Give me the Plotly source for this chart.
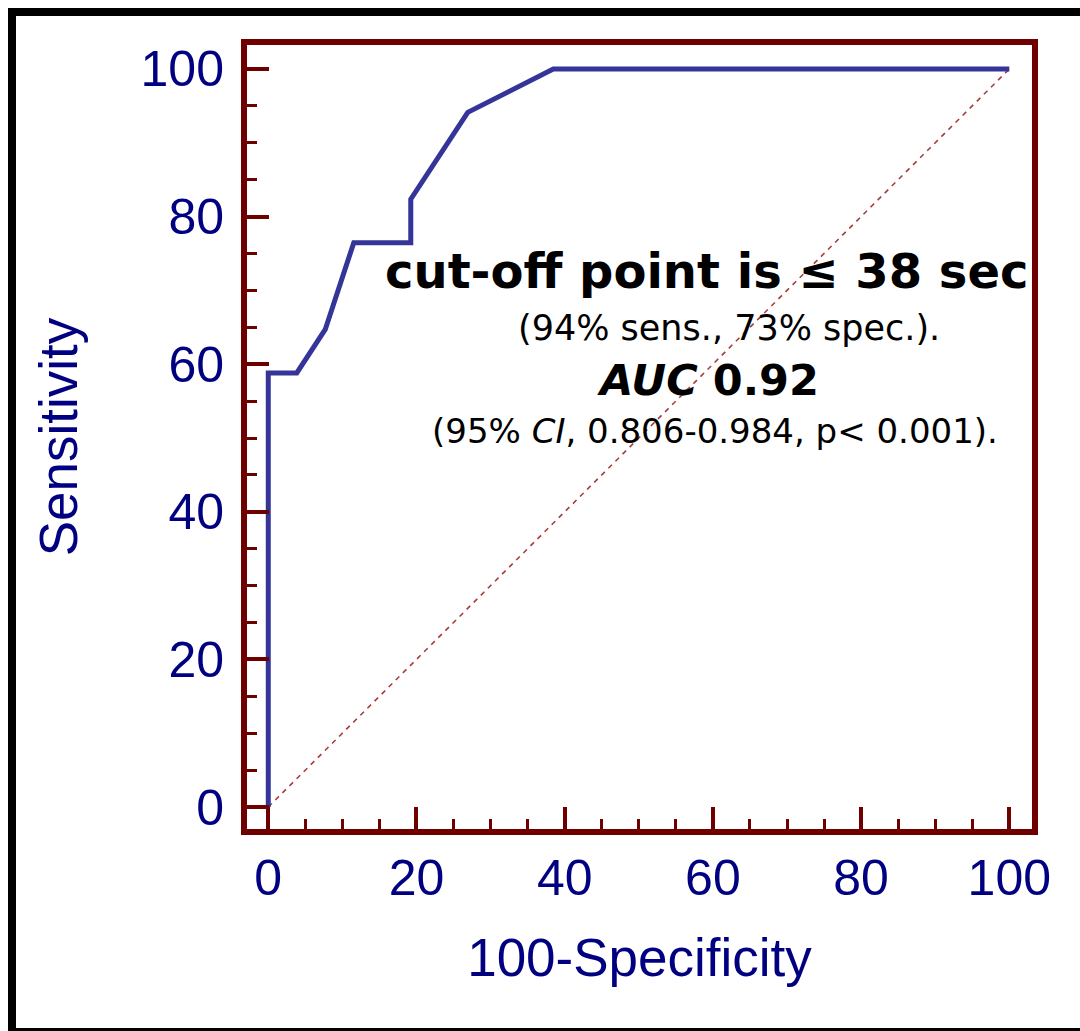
import plotly.graph_objects as go

# ROC curve data (100-Specificity vs Sensitivity, %)
fpr = [0, 0, 3.85, 7.69, 11.54, 19.23, 19.23, 26.92, 38.46, 100]
tpr = [0, 58.82, 58.82, 64.71, 76.47, 76.47, 82.35, 94.12, 100, 100]

diag_x = [0, 100]
diag_y = [0, 100]

tick_vals = [0, 20, 40, 60, 80, 100]
tick_text = ["0", "20", "40", "60", "80", "100"]

x_title = "100-Specificity"
y_title = "Sensitivity"

notes = [
    ("<b>cut-off point is \u2264 38 sec</b>", 59.1, 72.6, 48),
    ("(94% sens., 73% spec.).", 62.2, 64.9, 35),
    ("<b><i>AUC</i> 0.92</b>", 59.3, 57.8, 43),
    ("(95% <i>CI</i>, 0.806-0.984, p< 0.001).", 60.3, 50.9, 34),
]

W, H = 1080, 1031
ML, MR, MT, MB = 247, 48, 45, 202
pw, ph = W - ML - MR, H - MT - MB

FRAME = "#6e0000"
NAVY = "#000080"

fig = go.Figure()
fig.add_trace(go.Scatter(
    x=diag_x, y=diag_y, mode="lines",
    line=dict(color="#a83c3c", width=1.6, dash="5px,5px"),
    hoverinfo="skip", showlegend=False))
fig.add_trace(go.Scatter(
    x=fpr, y=tpr, mode="lines",
    line=dict(color="#343499", width=5),
    showlegend=False))

for txt, x, y, size in notes:
    fig.add_annotation(
        x=x, y=y, xref="x", yref="y", text=txt,
        showarrow=False, xanchor="center", yanchor="middle",
        font=dict(family="DejaVu Sans", size=size, color="black"))

axis_common = dict(
    showgrid=False, zeroline=False,
    showline=True, linecolor=FRAME, linewidth=6, mirror=True,
    ticks="inside", ticklen=22, tickwidth=4, tickcolor=FRAME,
    tickvals=tick_vals, ticktext=tick_text,
    tickfont=dict(family="Liberation Sans", size=50, color=NAVY),
    minor=dict(dtick=5, tick0=0, ticks="inside", ticklen=10, tickwidth=3, tickcolor=FRAME),
)

fig.update_xaxes(range=[-2.87, 103.06],
                 title=dict(text=x_title, font=dict(family="Liberation Sans", size=53, color=NAVY), standoff=36),
                 **axis_common)
fig.update_yaxes(range=[-2.98, 103.25], ticklabelstandoff=7,
                 title=dict(text=y_title, font=dict(family="Liberation Sans", size=53, color=NAVY), standoff=48),
                 **axis_common)

# outer black border of the picture
px2x = lambda px: (px - ML) / pw
py2y = lambda py: (H - MB - py) / ph
fig.add_shape(type="rect", xref="paper", yref="paper",
              x0=px2x(12), x1=px2x(1095), y0=py2y(1032), y1=py2y(12),
              line=dict(color="black", width=8), fillcolor="rgba(0,0,0,0)", layer="below")

fig.update_layout(
    width=W, height=H, autosize=False,
    margin=dict(l=ML, r=MR, t=MT, b=MB, pad=0),
    paper_bgcolor="white", plot_bgcolor="white",
)

fig.write_html("out.html")
